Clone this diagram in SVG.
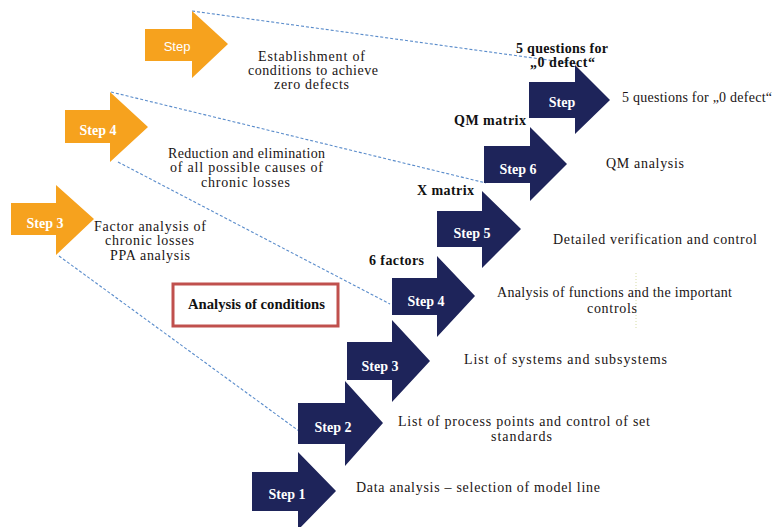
<svg xmlns="http://www.w3.org/2000/svg" width="773" height="527" viewBox="0 0 773 527">
<style>
.nav{fill:#1E245A}
.org{fill:#F6A21E}
.lbl{font-family:"Liberation Serif",serif;font-weight:bold;font-size:14px;fill:#fff;text-anchor:middle}
.t{font-family:"Liberation Serif",serif;font-size:14px;fill:#1a1414}
.b{font-family:"Liberation Serif",serif;font-weight:bold;font-size:14px;fill:#111}
.dash{fill:none;stroke:#5A8CCB;stroke-width:1.1;stroke-dasharray:3 2}
</style>
<rect width="773" height="527" fill="#fff"/>
<g id="connectors">
<line class="dash" x1="192" y1="11" x2="577" y2="64"/>
<line class="dash" x1="111" y1="92" x2="486" y2="183"/>
<line class="dash" x1="118" y1="162" x2="390" y2="304"/>
<line class="dash" x1="59" y1="256" x2="299" y2="431"/>
<line x1="636" y1="273" x2="636" y2="330" stroke="#D6DDA6" stroke-width="1" stroke-dasharray="1 2"/>
</g>
<g id="orange-step">
<polygon class="org" points="145,29 192,29 192,11 228,44 192,78 192,61 145,61"/>
<text x="177" y="51" font-family="Liberation Sans,sans-serif" font-size="13" fill="#fff" text-anchor="middle">Step</text>
</g>
<g id="orange-step4">
<polygon class="org" points="65,110 110,110 110,92 148,127 110,162 110,143 65,143"/>
<text class="lbl" x="98" y="135">Step 4</text>
</g>
<g id="orange-step3">
<polygon class="org" points="11,203 56,203 56,185 94,219 56,255 56,235 11,235"/>
<text class="lbl" x="45" y="228">Step 3</text>
</g>
<g id="step1">
<polygon class="nav" points="252,472 298,472 298,452 336,491 298,530 298,511 252,511"/>
<text class="lbl" x="287" y="499">Step 1</text>
</g>
<g id="step2">
<polygon class="nav" points="298,403 345,403 345,381 383,423 345,466 345,444 298,444"/>
<text class="lbl" x="333" y="432">Step 2</text>
</g>
<g id="step3">
<polygon class="nav" points="347,342 392,342 392,320 430,361 392,402 392,380 347,380"/>
<text class="lbl" x="380" y="371">Step 3</text>
</g>
<g id="step4">
<polygon class="nav" points="392,278 437,278 437,256 475,296 437,337 437,315 392,315"/>
<text class="lbl" x="426" y="306">Step 4</text>
</g>
<g id="step5">
<polygon class="nav" points="437,211 482,211 482,191 521,229 482,268 482,247 437,247"/>
<text class="lbl" x="472" y="238">Step 5</text>
</g>
<g id="step6">
<polygon class="nav" points="484,146 530,146 530,127 567,164 530,201 530,183 484,183"/>
<text class="lbl" x="518" y="174">Step 6</text>
</g>
<g id="step7">
<polygon class="nav" points="529,82 575,82 575,65 610,100 575,134 575,118 529,118"/>
<text class="lbl" x="562" y="107">Step</text>
</g>
<g id="analysis-box">
<rect x="173" y="284" width="165" height="42" fill="#fff" stroke="#C0504D" stroke-width="3"/>
<text class="b" x="188" y="309" textLength="137" lengthAdjust="spacingAndGlyphs">Analysis of conditions</text>
</g>
<g id="texts">
<text class="t" x="258" y="61" textLength="107">Establishment of</text>
<text class="t" x="248" y="75" textLength="130">conditions to achieve</text>
<text class="t" x="274" y="89" textLength="75">zero defects</text>
<text class="t" x="168" y="158" textLength="157">Reduction and elimination</text>
<text class="t" x="170" y="172" textLength="153">of all possible causes of</text>
<text class="t" x="201" y="187" textLength="89">chronic losses</text>
<text class="t" x="94" y="231" textLength="112">Factor analysis of</text>
<text class="t" x="105" y="245" textLength="89">chronic losses</text>
<text class="t" x="110" y="260" textLength="80">PPA analysis</text>
<text class="b" x="516" y="53" textLength="92">5 questions for</text>
<text class="b" x="530" y="67" textLength="65">„0 defect“</text>
<text class="b" x="454" y="125" textLength="72">QM matrix</text>
<text class="b" x="417" y="195" textLength="57">X matrix</text>
<text class="b" x="369" y="265" textLength="55">6 factors</text>
<text class="t" x="622" y="102" textLength="150">5 questions for „0 defect“</text>
<text class="t" x="606" y="168" textLength="78">QM analysis</text>
<text class="t" x="553" y="244" textLength="204">Detailed verification and control</text>
<text class="t" x="497" y="297" textLength="235">Analysis of functions and the important</text>
<text class="t" x="587" y="313" textLength="50">controls</text>
<text class="t" x="464" y="364" textLength="203">List of systems and subsystems</text>
<text class="t" x="398" y="426" textLength="252">List of process points and control of set</text>
<text class="t" x="491" y="441" textLength="61">standards</text>
<text class="t" x="356" y="492" textLength="244">Data analysis – selection of model line</text>
</g>
</svg>
